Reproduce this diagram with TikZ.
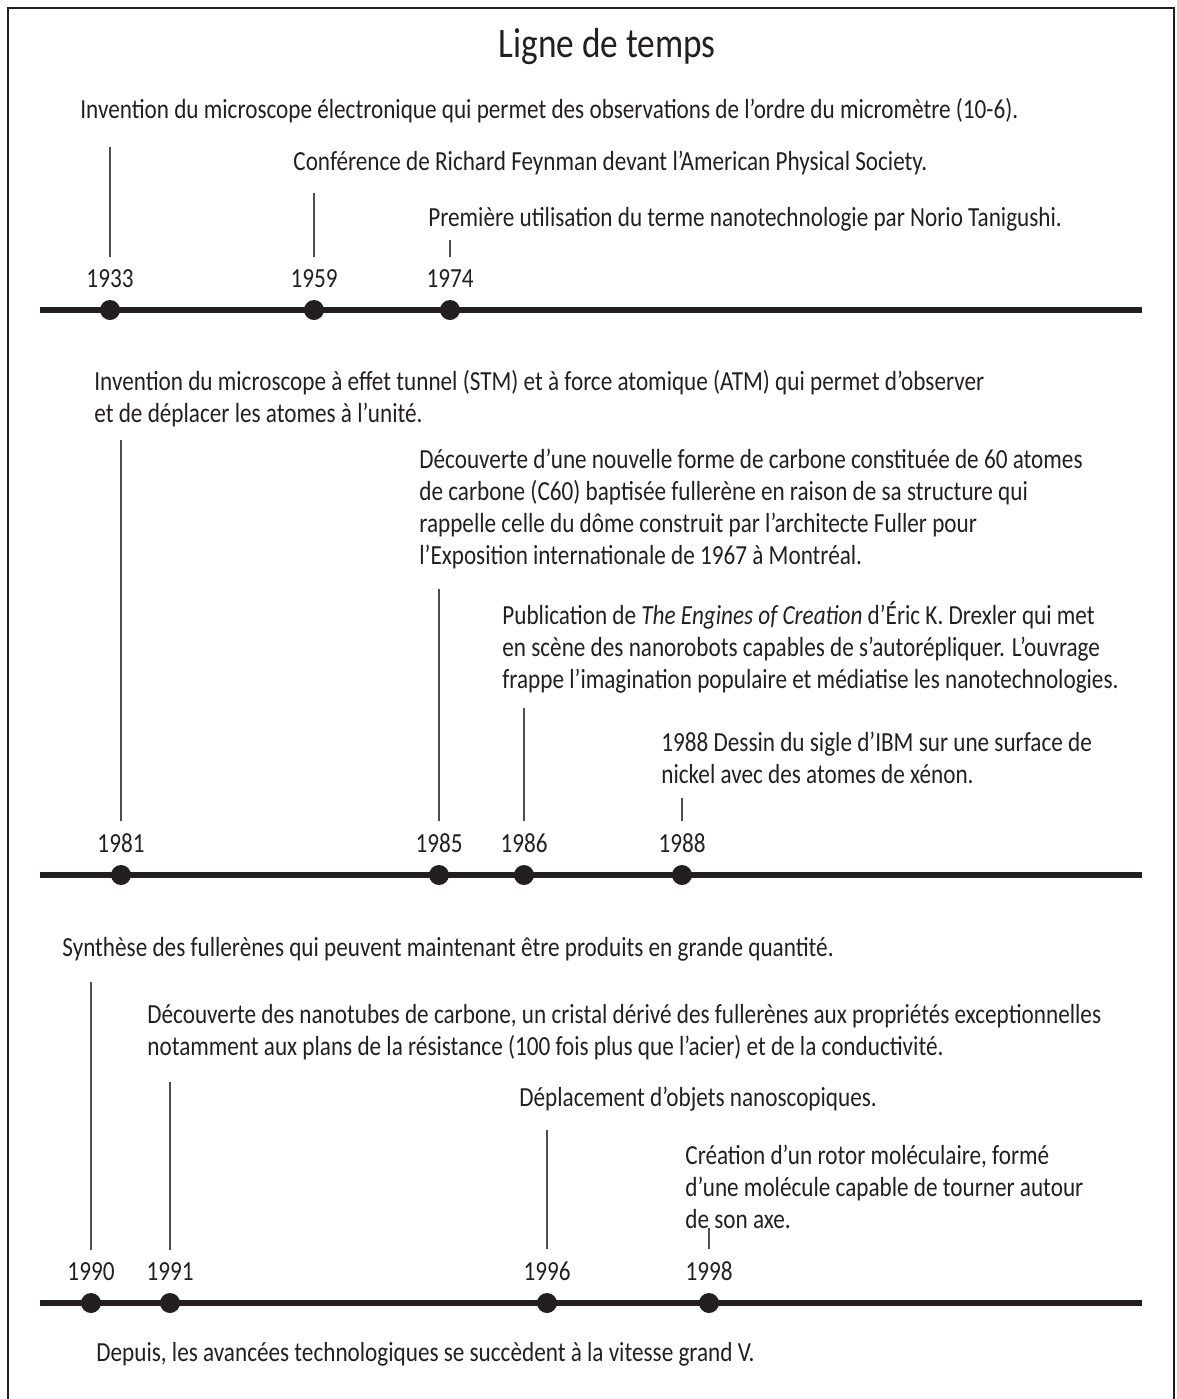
\documentclass[tikz,border=0pt]{standalone}
\usepackage{fontspec}
\setmainfont{Carlito}[FakeStretch=0.84]
\usepackage{tikz}
\definecolor{ink}{HTML}{231F20}
\definecolor{tickgray}{HTML}{4D4D4F}
\newcommand{\tlaxis}[2] {\coordinate (a#1) at (40,#2); \coordinate (b#1) at (1142,#2); \draw [axisline] (a#1) -- (b#1);}
\newcommand{\tlyear}[4] {\node at (#1,#2) (d#4) [tldot] {}; \node at (#1,#2-23) (y#4) [yearlabel] {#4}; \coordinate (t#4) at (#1,#3); \draw [tickline] (t#4) -- (y#4.north);}
\newcommand{\tlevent}[4] {\node at (#1,#2) (#3) [eventtext] {#4};}

\begin{document}
\begin{tikzpicture}[x=0.5pt, y=-0.5pt,
  eventtext/.style={anchor=base west, inner sep=0pt, align=left, text=ink, font=\fontsize{13.8}{16}\selectfont},
  yearlabel/.style={anchor=base, inner xsep=0pt, inner ysep=6pt, text=ink, font=\fontsize{13.8}{16}\selectfont},
  tldot/.style={circle, fill=ink, inner sep=0pt, minimum size=10pt},
  axisline/.style={ink, line width=2.8pt},
  tickline/.style={tickgray, line width=0.6pt},
  framestyle/.style={ink, line width=0.7pt}]

\useasboundingbox (0,0) rectangle (1177,1399);
\draw [framestyle] (8,1399) -- (8,8) -- (1174,8) -- (1174,1399);

\node at (607,57) (title) [anchor=base, text=ink, font=\fontsize{21}{24}\selectfont] {Ligne de temps};

% the y of a text is the baseline of its last line
\tlevent{80}{118}{ev1933}{Invention du microscope électronique qui permet des observations de l’ordre du micromètre (10-6).};
\tlevent{293}{170}{ev1959}{Conférence de Richard Feynman devant l’American Physical Society.};
\tlevent{428}{226}{ev1974}{Première utilisation du terme nanotechnologie par Norio Tanigushi.};
\tlaxis{1}{310};
\tlyear{110}{310}{147}{1933};
\tlyear{314}{310}{193}{1959};
\tlyear{450}{310}{240}{1974};

\tlevent{94}{422}{ev1981}{Invention du microscope à effet tunnel (STM) et à force atomique (ATM) qui permet d’observer\\et de déplacer les atomes à l’unité.};
\tlevent{419}{564}{ev1985}{Découverte d’une nouvelle forme de carbone constituée de 60 atomes\\de carbone (C60) baptisée fullerène en raison de sa structure qui\\rappelle celle du dôme construit par l’architecte Fuller pour\\l’Exposition internationale de 1967 à Montréal.};
\tlevent{502}{688}{ev1986}{Publication de \textit{The Engines of Creation} d’Éric K. Drexler qui met\\en scène des nanorobots capables de s’autorépliquer. L’ouvrage\\frappe l’imagination populaire et médiatise les nanotechnologies.};
\tlevent{661}{783}{ev1988}{1988 Dessin du sigle d’IBM sur une surface de\\nickel avec des atomes de xénon.};
\tlaxis{2}{875};
\tlyear{121}{875}{440}{1981};
\tlyear{439}{875}{589}{1985};
\tlyear{524}{875}{708}{1986};
\tlyear{682}{875}{798}{1988};

\tlevent{62}{956}{ev1990}{Synthèse des fullerènes qui peuvent maintenant être produits en grande quantité.};
\tlevent{147}{1055}{ev1991}{Découverte des nanotubes de carbone, un cristal dérivé des fullerènes aux propriétés exceptionnelles\\notamment aux plans de la résistance (100 fois plus que l’acier) et de la conductivité.};
\tlevent{519}{1106}{ev1996}{Déplacement d’objets nanoscopiques.};
\tlevent{685}{1228}{ev1998}{Création d’un rotor moléculaire, formé\\d’une molécule capable de tourner autour\\de son axe.};
\tlaxis{3}{1303};
\tlyear{91}{1303}{982}{1990};
\tlyear{170}{1303}{1082}{1991};
\tlyear{547}{1303}{1130}{1996};
\tlyear{709}{1303}{1228}{1998};

\node at (96,1361) (since) [eventtext] {Depuis, les avancées technologiques se succèdent à la vitesse grand V.};

\end{tikzpicture}
\end{document}
